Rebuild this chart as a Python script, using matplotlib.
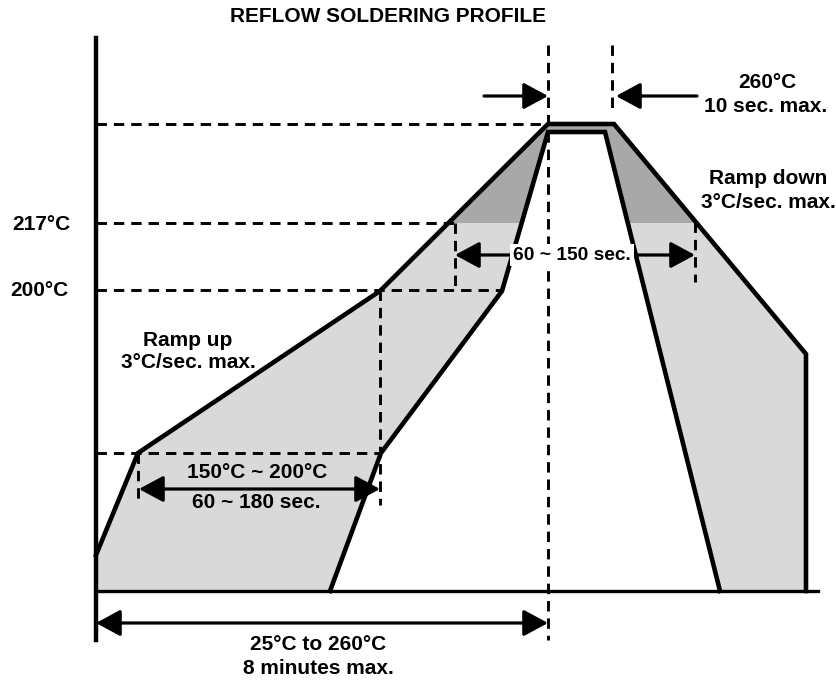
import matplotlib
matplotlib.use("Agg")
import matplotlib.pyplot as plt
from matplotlib.patches import Polygon, Rectangle

plt.rcParams['font.family'] = ['Liberation Sans', 'DejaVu Sans']
plt.rcParams['lines.scale_dashes'] = False

# ---- diagram geometry (schematic units, y grows downward) ----
title = "REFLOW SOLDERING PROFILE"

# outer (upper/left) limit of the profile band
outer_x = [96, 96, 138, 380, 548, 614, 806, 806]
outer_y = [591, 555, 453, 291, 124, 124, 354, 591]
# inner (lower/right) limit of the profile band
inner_x = [330, 381, 502, 548, 605, 720]
inner_y = [591, 453, 291, 132, 132, 591]

# reference temperature levels
level_names = ["260°C", "217°C", "200°C", "150°C"]
level_y = [124, 223, 290, 453]
level_x_end = [548, 455, 500, 380]

# axes
x_axis = (96, 818, 591)
y_axis = (96, 38, 640)

# vertical guide lines: (x, y_top, y_bottom)
vguides_x = [548, 612, 455, 380, 138, 695]
vguides_top = [45, 45, 223, 290, 453, 222]
vguides_bot = [640, 112, 290, 505, 505, 282]

# arrows (x_start, x_end, y, double?)
arrows = [
    (484, 548, 96, False),
    (697, 616, 96, False),
    (455, 695, 255, True),
    (139, 380, 489, True),
    (96, 548, 623, True),
]

labels = [
    ("260°C", 767, 82),
    ("10 sec. max.", 766, 107),
    ("Ramp down", 768, 178),
    ("3°C/sec. max.", 768, 202),
    ("217°C", 41, 224),
    ("200°C", 39, 290),
    ("Ramp up", 188, 340),
    ("3°C/sec. max.", 188, 363),
    ("150°C ~ 200°C", 257, 473),
    ("60 ~ 180 sec.", 256, 503),
    ("25°C to 260°C", 318, 645),
    ("8 minutes max.", 318, 668),
]
boxed_label = ("60 ~ 150 sec.", 572, 255)

light = "#d9d9d9"
dark = "#a8a8a8"

fig = plt.figure(figsize=(8.36, 6.83), dpi=100)
ax = fig.add_axes([0, 0, 1, 1])
ax.set_xlim(0, 836)
ax.set_ylim(683, 0)
ax.axis("off")

# band polygon: outer path then inner path reversed
band = list(zip(outer_x, outer_y)) + list(zip(inner_x[::-1], inner_y[::-1]))
ax.add_patch(Polygon(band, closed=True, facecolor=light, edgecolor="none", zorder=1))
dark_poly = Polygon(band, closed=True, facecolor=dark, edgecolor="none", zorder=1.1)
ax.add_patch(dark_poly)
clip = Rectangle((0, 0), 836, level_y[1], transform=ax.transData)
dark_poly.set_clip_path(clip)

# dashed guides
dash = dict(color="black", lw=2.1, dashes=(7.5, 5), zorder=2)
for y, xe in zip(level_y, level_x_end):
    ax.plot([y_axis[0], xe], [y, y], **dash)
for x, yt, yb in zip(vguides_x, vguides_top, vguides_bot):
    ax.plot([x, x], [yt, yb], **dash)

# profile lines
ax.plot(outer_x[1:], outer_y[1:], color="black", lw=3.3, solid_joinstyle="miter", zorder=3)
ax.plot(inner_x, inner_y, color="black", lw=3.3, solid_joinstyle="miter", zorder=3)

# axes lines
ax.plot([x_axis[0], x_axis[1]], [x_axis[2], x_axis[2]], color="black", lw=2.4, zorder=3)
ax.plot([y_axis[0], y_axis[0]], [y_axis[1], y_axis[2]], color="black", lw=3.2, zorder=3)

# arrows
for xs, xe, y, dbl in arrows:
    style = "<|-|>" if dbl else "-|>"
    ax.annotate("", xy=(xe, y), xytext=(xs, y),
                arrowprops=dict(arrowstyle=style + ",head_length=0.5,head_width=0.27",
                                mutation_scale=30, lw=2.3, color="black",
                                shrinkA=0, shrinkB=0), zorder=4)

fs = 15
for txt, x, y in labels:
    ax.text(x, y, txt, ha="center", va="center", fontsize=fs, fontweight="bold", zorder=5)
ax.text(boxed_label[1], boxed_label[2], boxed_label[0], ha="center", va="center",
        fontsize=13.8, fontweight="bold", zorder=5,
        bbox=dict(facecolor="white", edgecolor="none", pad=2))

ax.text(388, 16, title, ha="center", va="center", fontsize=15, fontweight="bold")

fig.savefig("out.png", dpi=100)
